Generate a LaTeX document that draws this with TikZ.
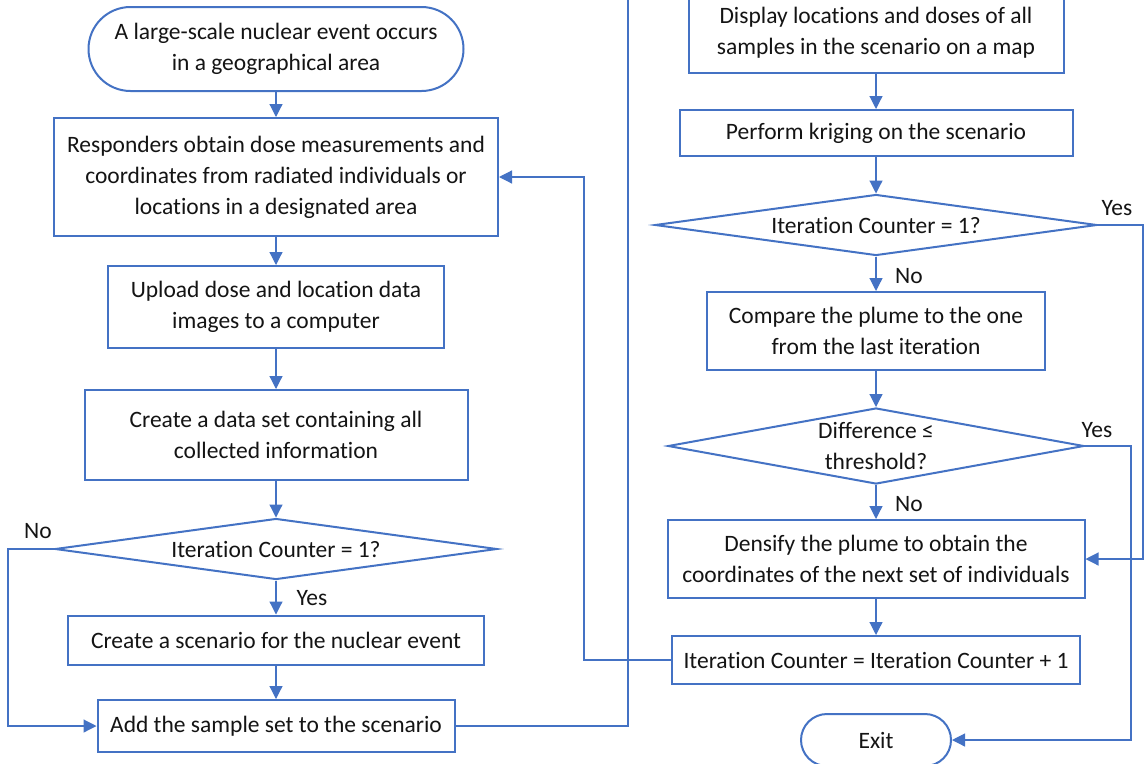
\documentclass[tikz,border=0pt]{standalone}
\usepackage{fontspec}
\setmainfont{Carlito}[Ligatures={NoCommon}]
\usetikzlibrary{shapes.geometric,arrows.meta,calc}
\definecolor{fblue}{HTML}{4472C4}
\definecolor{ftext}{HTML}{141414}
\begin{document}
\begin{tikzpicture}[x=1pt,y=-1pt,
 every node/.style={font=\fontsize{23.5}{31}\selectfont, text=ftext},
 box/.style={draw=fblue, line width=2pt, align=center, inner sep=0pt},
 term/.style={box, rounded corners=#1},
 dec/.style={draw=fblue, line width=2pt, diamond, inner sep=0pt},
 conn/.style={draw=fblue, line width=1.2pt, -{Triangle[width=13pt,length=13pt]}},
 lab/.style={inner sep=0pt, anchor=center}
]
\useasboundingbox (0,0) rectangle (1147,763);
\clip (0,0) rectangle (1147,763);
\fill[white] (0,0) rectangle (1147,763);

% left column
\node[term=42pt, minimum width=375pt, minimum height=84pt] (start) at (276,49) {A large-scale nuclear event occurs\\in a geographical area};
\node[box, minimum width=444pt, minimum height=118pt] (resp) at (276,177) {Responders obtain dose measurements and\\coordinates from radiated individuals or\\locations in a designated area};
\node[box, minimum width=336pt, minimum height=82pt] (up) at (276,307) {Upload dose and location data\\images to a computer};
\node[box, minimum width=383pt, minimum height=90pt] (data) at (276,435) {Create a data set containing all\\collected information};
\node[dec, minimum width=442pt, minimum height=61pt] (d1) at (276,549) {};
\node[lab] (d1t) at (d1) {Iteration Counter = 1?};
\node[box, minimum width=416pt, minimum height=49pt] (scen) at (276,640) {Create a scenario for the nuclear event};
\node[box, minimum width=357pt, minimum height=52pt] (add) at (276,726) {Add the sample set to the scenario};

% right column
\node[box, minimum width=375pt, minimum height=80pt] (disp) at (876,33) {Display locations and doses of all\\samples in the scenario on a map};
\node[box, minimum width=393pt, minimum height=46pt] (krig) at (876,133) {Perform kriging on the scenario};
\node[dec, minimum width=442pt, minimum height=61pt] (d2) at (876,225) {};
\node[lab] (d2t) at (d2) {Iteration Counter = 1?};
\node[box, minimum width=338pt, minimum height=78pt] (comp) at (876,331) {Compare the plume to the one\\from the last iteration};
\node[dec, minimum width=416pt, minimum height=76pt] (d3) at (876,446) {};
\node[lab, align=center] (d3t) at (d3) {Difference ≤\\threshold?};
\node[box, minimum width=417pt, minimum height=78pt] (dens) at (876,559) {Densify the plume to obtain the\\coordinates of the next set of individuals};
\node[box, minimum width=408pt, minimum height=48pt] (iter) at (876,660) {Iteration Counter = Iteration Counter + 1};
\node[term=26pt, minimum width=150pt, minimum height=52pt] (exit) at (876,740) {Exit};

% labels
\node[lab] (lno1) at (38,531) {No};
\node[lab] (lyes1) at (312,598) {Yes};
\node[lab] (lyes2) at (1117,208) {Yes};
\node[lab] (lno2) at (909,276) {No};
\node[lab] (lyes3) at (1097,430) {Yes};
\node[lab] (lno3) at (909,504) {No};

% coordinates for routing
\coordinate (nol) at (8,549);
\coordinate (upr) at (628,-20);
\coordinate (ret) at (584,177);
\coordinate (y2r) at (1143,225);
\coordinate (y3r) at (1131,446);

% connectors
\draw[conn] (start.south) -- (resp.north);
\draw[conn] (resp.south) -- (up.north);
\draw[conn] (up.south) -- (data.north);
\draw[conn] (data.south) -- (d1.north);
\draw[conn] (d1.south) -- (scen.north);
\draw[conn] (scen.south) -- (add.north);
\draw[conn] (d1.west) -- (nol) |- (add.west);
\draw[conn] (add.east) -| (upr) -| (disp.north);
\draw[conn] (disp.south) -- (krig.north);
\draw[conn] (krig.south) -- (d2.north);
\draw[conn] (d2.south) -- (comp.north);
\draw[conn] (comp.south) -- (d3.north);
\draw[conn] (d3.south) -- (dens.north);
\draw[conn] (dens.south) -- (iter.north);
\draw[conn] (iter.west) -| (ret) -- (resp.east);
\draw[conn] (d2.east) -- (y2r) |- (dens.east);
\draw[conn] (d3.east) -- (y3r) |- (exit.east);
\end{tikzpicture}
\end{document}
